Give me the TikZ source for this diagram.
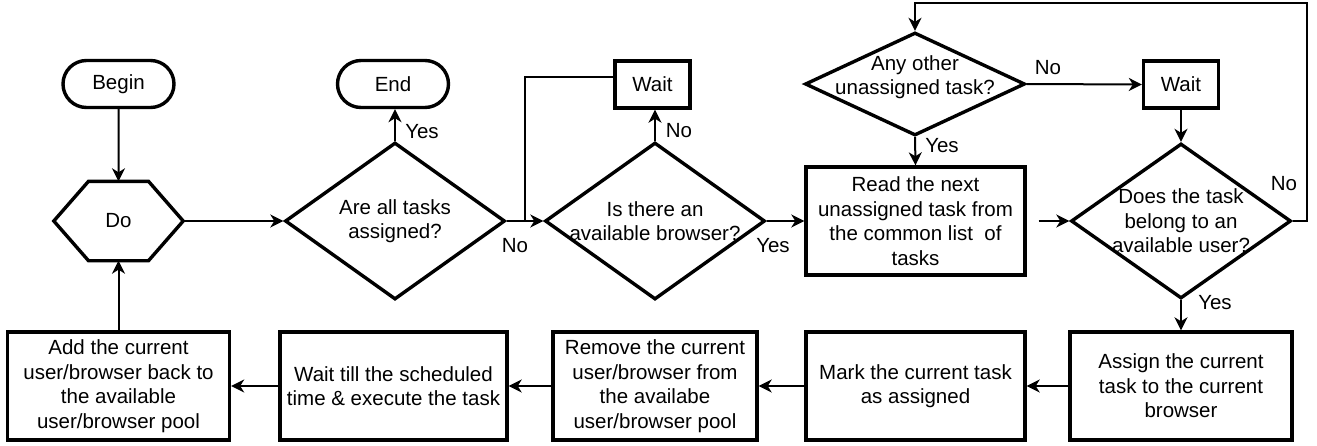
\documentclass[tikz,border=0pt]{standalone}
\usepackage{fontspec}
\setmainfont{Liberation Sans}
\usetikzlibrary{shapes.geometric,shapes.misc,arrows.meta,calc}
\begin{document}
\begin{tikzpicture}[x=1pt,y=-1pt,
  every node/.style={font=\fontsize{20.5}{24.5}\selectfont},
  shp/.style={draw, line width=3.4pt, inner sep=0pt},
  term/.style={shp, rounded rectangle, minimum width=111pt, minimum height=47pt},
  proc/.style={shp, rectangle, align=center, minimum height=108pt},
  dec/.style={shp, diamond, minimum width=220pt, minimum height=157pt},
  conn/.style={line width=2pt},
  arr/.style={conn, -{Stealth[length=13pt,width=13pt,inset=4pt]}},
  lbl/.style={inner sep=0pt}
]
\useasboundingbox (0,0) rectangle (1317,445);

% terminals
\node[term] (begin) at (118.5,84) {Begin};
\node[term] (end) at (393,84) {End};

% hexagon "Do"
\node[minimum width=129pt, minimum height=79pt, inner sep=0pt] (do) at (118.5,221) {Do};
\draw[line width=3.4pt, line join=miter] (do.west) -- ($(do.north)+(-30,0)$) -- ($(do.north)+(30,0)$)
  -- (do.east) -- ($(do.south)+(30,0)$) -- ($(do.south)+(-30,0)$) -- cycle;

% decisions
\node[dec, label={[align=center]center:Are all tasks\\assigned?}] (d1) at (395,221) {};
\node[dec, label={[align=center]center:Is there an\\available browser?}] (d2) at (655,221) {};
\node[dec, minimum height=155pt, label={[align=center]center:Does the task\\belong to an\\available user?}] (d3) at (1181,221) {};
\node[dec, minimum height=103pt, label={[align=center,yshift=7pt]center:Any other\\unassigned task?}] (d4) at (915,84) {};

% small wait boxes
\node[shp, minimum width=75pt, minimum height=47pt] (w1) at (652.5,84.5) {Wait};
\node[shp, minimum width=75pt, minimum height=47pt] (w2) at (1181,84.5) {Wait};

% process boxes
\node[proc, minimum width=219pt] (read) at (915.5,221) {Read the next\\unassigned task from\\the common list\ \ of\\tasks};
\node[proc, minimum width=222pt] (add) at (118.5,386) {Add the current\\user/browser back to\\the available\\user/browser pool};
\node[proc, minimum width=227pt] (wexec) at (393.5,386) {Wait till the scheduled\\time \& execute the task};
\node[proc, minimum width=204pt] (remove) at (655,386) {Remove the current\\user/browser from\\the availabe\\user/browser pool};
\node[proc, minimum width=219pt] (mark) at (915.5,386) {Mark the current task\\as assigned};
\node[proc, minimum width=222pt] (assign) at (1181,386) {Assign the current\\task to the current\\browser};

% helper coordinates
\coordinate (j1) at (525,221);
\coordinate (looptop) at (1307,3);

% connectors
\draw[arr] (begin) -- (do);
\draw[arr] (do) -- (d1);
\draw[arr] (d1.north) -- (d1.north |- end.south);
\draw[arr] (d1.east) -- (d2.west);
\draw[arr] (d2.north) -- (d2.north |- w1.south);
\draw[conn] ([yshift=8pt]w1.west) -| (j1);
\draw[arr] (d2.east) -- (read.west);
\draw[arr] ([xshift=12pt]read.east) -- (d3.west);
\draw[arr] (d3.south) -- (assign.north);
\draw[arr] (d3.east) -| (looptop) -| (d4.north);
\draw[arr] (d4.east) -- (w2.west);
\draw[arr] (w2.south) -- (d3.north);
\draw[arr] (d4.south) -- (read.north);
\draw[arr] (assign.west) -- (mark.east);
\draw[arr] (mark.west) -- (remove.east);
\draw[arr] (remove.west) -- (wexec.east);
\draw[arr] (wexec.west) -- (add.east);
\draw[arr] (add.north) -- (do.south);

% branch labels
\node[lbl] (l1) at (422,132) {Yes};
\node[lbl] (l2) at (515,246) {No};
\node[lbl] (l3) at (679,131) {No};
\node[lbl] (l4) at (773,246) {Yes};
\node[lbl] (l5) at (1048,68) {No};
\node[lbl] (l6) at (942,146) {Yes};
\node[lbl] (l7) at (1284,184) {No};
\node[lbl] (l8) at (1215,303) {Yes};
\end{tikzpicture}
\end{document}
